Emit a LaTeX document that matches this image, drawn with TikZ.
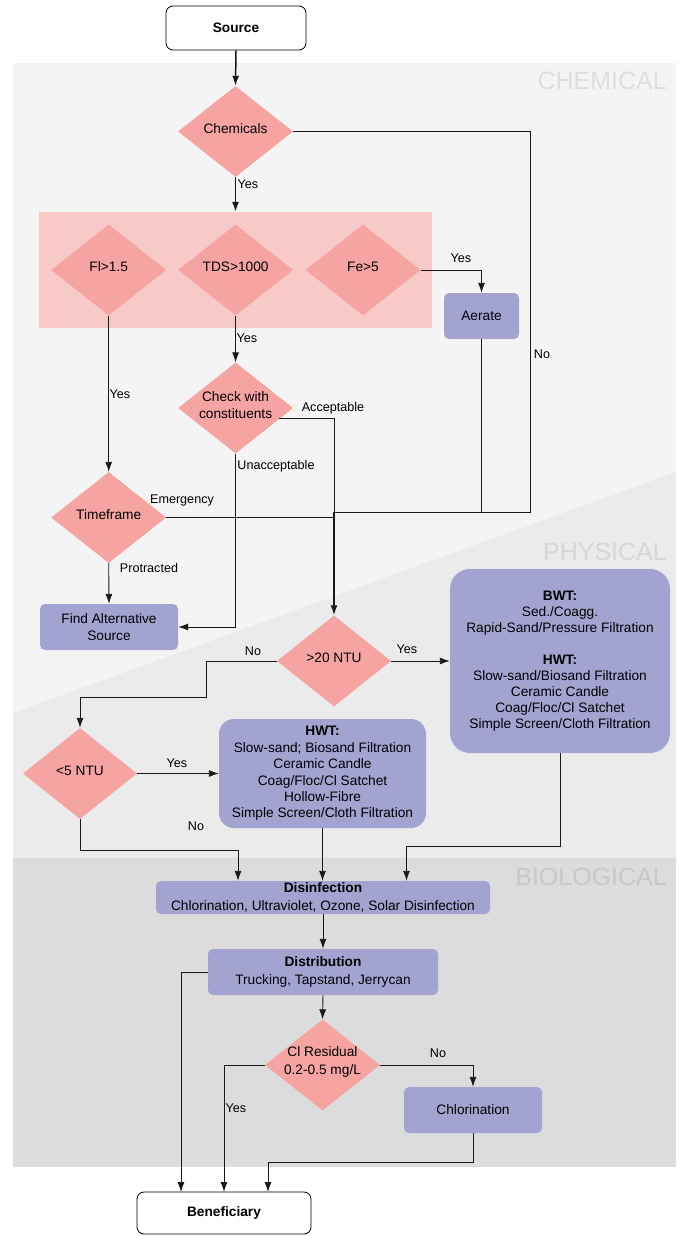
\documentclass[tikz,border=0pt]{standalone}
\usepackage{fontspec}
\setmainfont{Liberation Sans}
\usetikzlibrary{shapes.geometric,arrows.meta,calc}
\definecolor{chembg}{RGB}{244,244,244}
\definecolor{physbg}{RGB}{235,235,235}
\definecolor{biobg}{RGB}{220,220,220}
\definecolor{dpink}{RGB}{246,164,162}
\definecolor{grpc}{RGB}{247,202,200}
\definecolor{purp}{RGB}{162,163,208}
\definecolor{chemlbl}{RGB}{222,222,222}
\definecolor{physlbl}{RGB}{214,214,214}
\definecolor{biolbl}{RGB}{200,200,200}
\tikzset{
  dia/.style={diamond, fill=dpink, draw=none, minimum width=115pt, minimum height=91pt, inner sep=0pt},
  pbox/.style={rectangle, rounded corners=5pt, fill=purp, draw=none, inner sep=0pt, align=center, font=\fontsize{13.7}{16}\selectfont},
  tbox/.style={rectangle, rounded corners=7pt, draw=black, line width=0.8pt, fill=white, inner sep=0pt, font=\fontsize{13.7}{16}\selectfont\bfseries},
  txt/.style={font=\fontsize{13.7}{17.5}\selectfont, align=center, inner sep=0pt, yshift=3pt},
  lbl/.style={font=\fontsize{12.6}{15}\selectfont, inner sep=0pt},
  seclabel/.style={font=\fontsize{25}{30}\selectfont, inner sep=0pt, anchor=base east},
  conn/.style={line width=0.9pt, draw=black!90},
  arr/.style={conn, -{Latex[length=10pt,width=7pt]}},
  tarr/.style={arr, line width=1.5pt},
}
\begin{document}
\begin{tikzpicture}[x=1pt,y=-1pt]
\useasboundingbox (0,0) rectangle (679,1236);
\fill[white] (0,0) rectangle (679,1236);
% background regions
\fill[chembg] (13,63) rectangle (676,1167);
\fill[physbg] (13,713) -- (676,472) -- (676,858) -- (13,858) -- cycle;
\fill[biobg] (13,858) rectangle (676,1167);
\node[seclabel, text=chemlbl] (secchem) at (667,90) {CHEMICAL};
\node[seclabel, text=physlbl] (secphys) at (667,560) {PHYSICAL};
\node[seclabel, text=biolbl] (secbio) at (667,885) {BIOLOGICAL};

% group of chemical tests
\node[rectangle, fill=grpc, draw=none, minimum width=393pt, minimum height=116pt, inner sep=0pt] (grp) at (235.5,270) {};

% terminals
\node[tbox, minimum width=140pt, minimum height=44pt] (src) at (236,28) {Source};
\node[tbox, minimum width=174pt, minimum height=42pt] (ben) at (224,1213) {Beneficiary};

% diamonds
\node[dia] (chem) at (235.5,131.5) {};
\node[txt] (chemt) at (chem) {Chemicals};
\node[dia] (fl) at (108.7,270) {};
\node[txt] (flt) at (fl) {Fl>1.5};
\node[dia] (tds) at (235.6,270) {};
\node[txt] (tdst) at (tds) {TDS>1000};
\node[dia] (fe) at (363,270) {};
\node[txt] (fet) at (fe) {Fe>5};
\node[dia] (chk) at (235.6,408) {};
\node[txt] (chkt) at (chk) {Check with\\constituents};
\node[dia] (tf) at (108.7,517.5) {};
\node[txt] (tft) at (tf) {Timeframe};
\node[dia, minimum width=114pt] (ntu20) at (334,661) {};
\node[txt] (ntu20t) at (ntu20) {>20 NTU};
\node[dia, minimum width=114pt] (ntu5) at (80,773.5) {};
\node[txt] (ntu5t) at (ntu5) {<5 NTU};
\node[dia] (cl) at (322.5,1065) {};
\node[txt] (clt) at (cl) {Cl Residual\\0.2-0.5 mg/L};

% process boxes
\node[pbox, minimum width=75pt, minimum height=46pt] (aer) at (481.5,316) {Aerate};
\node[pbox, minimum width=138pt, minimum height=46pt, font=\fontsize{13.7}{17}\selectfont] (alt) at (109,627) {Find Alternative\\Source};
\node[pbox, rounded corners=20pt, minimum width=220pt, minimum height=184pt] (bwt) at (560,661)
  {\bfseries BWT:\\Sed./Coagg.\\Rapid-Sand/Pressure Filtration\\[16pt]\bfseries HWT:\\Slow-sand/Biosand Filtration\\Ceramic Candle\\Coag/Floc/Cl Satchet\\Simple Screen/Cloth Filtration};
\node[pbox, rounded corners=15pt, minimum width=207pt, minimum height=109pt, font=\fontsize{13.7}{16.4}\selectfont] (hwt) at (322.5,773.5)
  {\bfseries HWT:\\Slow-sand; Biosand Filtration\\Ceramic Candle\\Coag/Floc/Cl Satchet\\Hollow-Fibre\\Simple Screen/Cloth Filtration};
\node[pbox, minimum width=334pt, minimum height=33pt, font=\fontsize{13.7}{18}\selectfont] (dis) at (323,897.5)
  {\bfseries Disinfection\\Chlorination, Ultraviolet, Ozone, Solar Disinfection};
\node[pbox, minimum width=230pt, minimum height=46pt, font=\fontsize{13.7}{18}\selectfont] (dist) at (323,972)
  {\bfseries Distribution\\Trucking, Tapstand, Jerrycan};
\node[pbox, minimum width=138pt, minimum height=46pt] (chl) at (473,1110) {Chlorination};

% helper coordinates
\coordinate (jn) at (334,512);
\coordinate (nox) at (530,512);
\coordinate (c1) at (206,697);
\coordinate (c2) at (238,850);
\coordinate (c3) at (406.5,846);
\coordinate (b1) at (181,1192);
\coordinate (b2) at (224,1192);
\coordinate (c5) at (268,1162);
\coordinate (b3) at (268,1192);

% connectors
\draw[tarr] (src.south) -- (chem.north);
\draw[tarr] (chem.south) -- (chem.south |- grp.north);
\draw[conn] (chem.east) -| (nox) -- (jn);
\draw[arr] (fe.east) -| (aer.north);
\draw[conn] (aer.south) -- (aer.south |- jn);
\draw[arr] (tds.south) -- (chk.north);
\draw[conn] (chk.-14) -| (jn);
\draw[tarr] (jn) -- (ntu20.north);
\draw[arr] (chk.south) |- (alt.east);
\draw[arr] (fl.south) -- (tf.north);
\draw[conn] (tf.east) -- (tf.east -| jn);
\draw[arr] (tf.south) -- (alt.north);
\draw[arr] (ntu20.east) -- (bwt.west);
\draw[arr] (ntu20.west) -| (c1) -| (ntu5.north);
\draw[arr] (ntu5.east) -- (hwt.west);
\draw[arr] (ntu5.south) |- (c2) -- (c2 |- dis.north);
\draw[arr] (hwt.south) -- (hwt.south |- dis.north);
\draw[arr] (bwt.south) |- (c3) -- (c3 |- dis.north);
\draw[arr] (dis.south) -- (dist.north);
\draw[arr] (dist.west) -| (b1);
\draw[arr] (dist.south) -- (cl.north);
\draw[arr] (cl.east) -| (chl.north);
\draw[arr] (cl.west) -| (b2);
\draw[arr] (chl.south) |- (c5) -- (b3);

% connector labels
\node[lbl] (l1) at (248,184) {Yes};
\node[lbl] (l2) at (461,258) {Yes};
\node[lbl] (l3) at (542,354) {No};
\node[lbl] (l4) at (247,338) {Yes};
\node[lbl] (l5) at (120,394) {Yes};
\node[lbl] (l6) at (333,408) {Acceptable};
\node[lbl] (l7) at (276,466) {Unacceptable};
\node[lbl] (l8) at (182,500) {Emergency};
\node[lbl] (l9) at (149,568) {Protracted};
\node[lbl] (l10) at (253,651) {No};
\node[lbl] (l11) at (407,649) {Yes};
\node[lbl] (l12) at (177,763) {Yes};
\node[lbl] (l13) at (196,826) {No};
\node[lbl] (l14) at (438,1053) {No};
\node[lbl] (l15) at (236,1108) {Yes};
\end{tikzpicture}
\end{document}
